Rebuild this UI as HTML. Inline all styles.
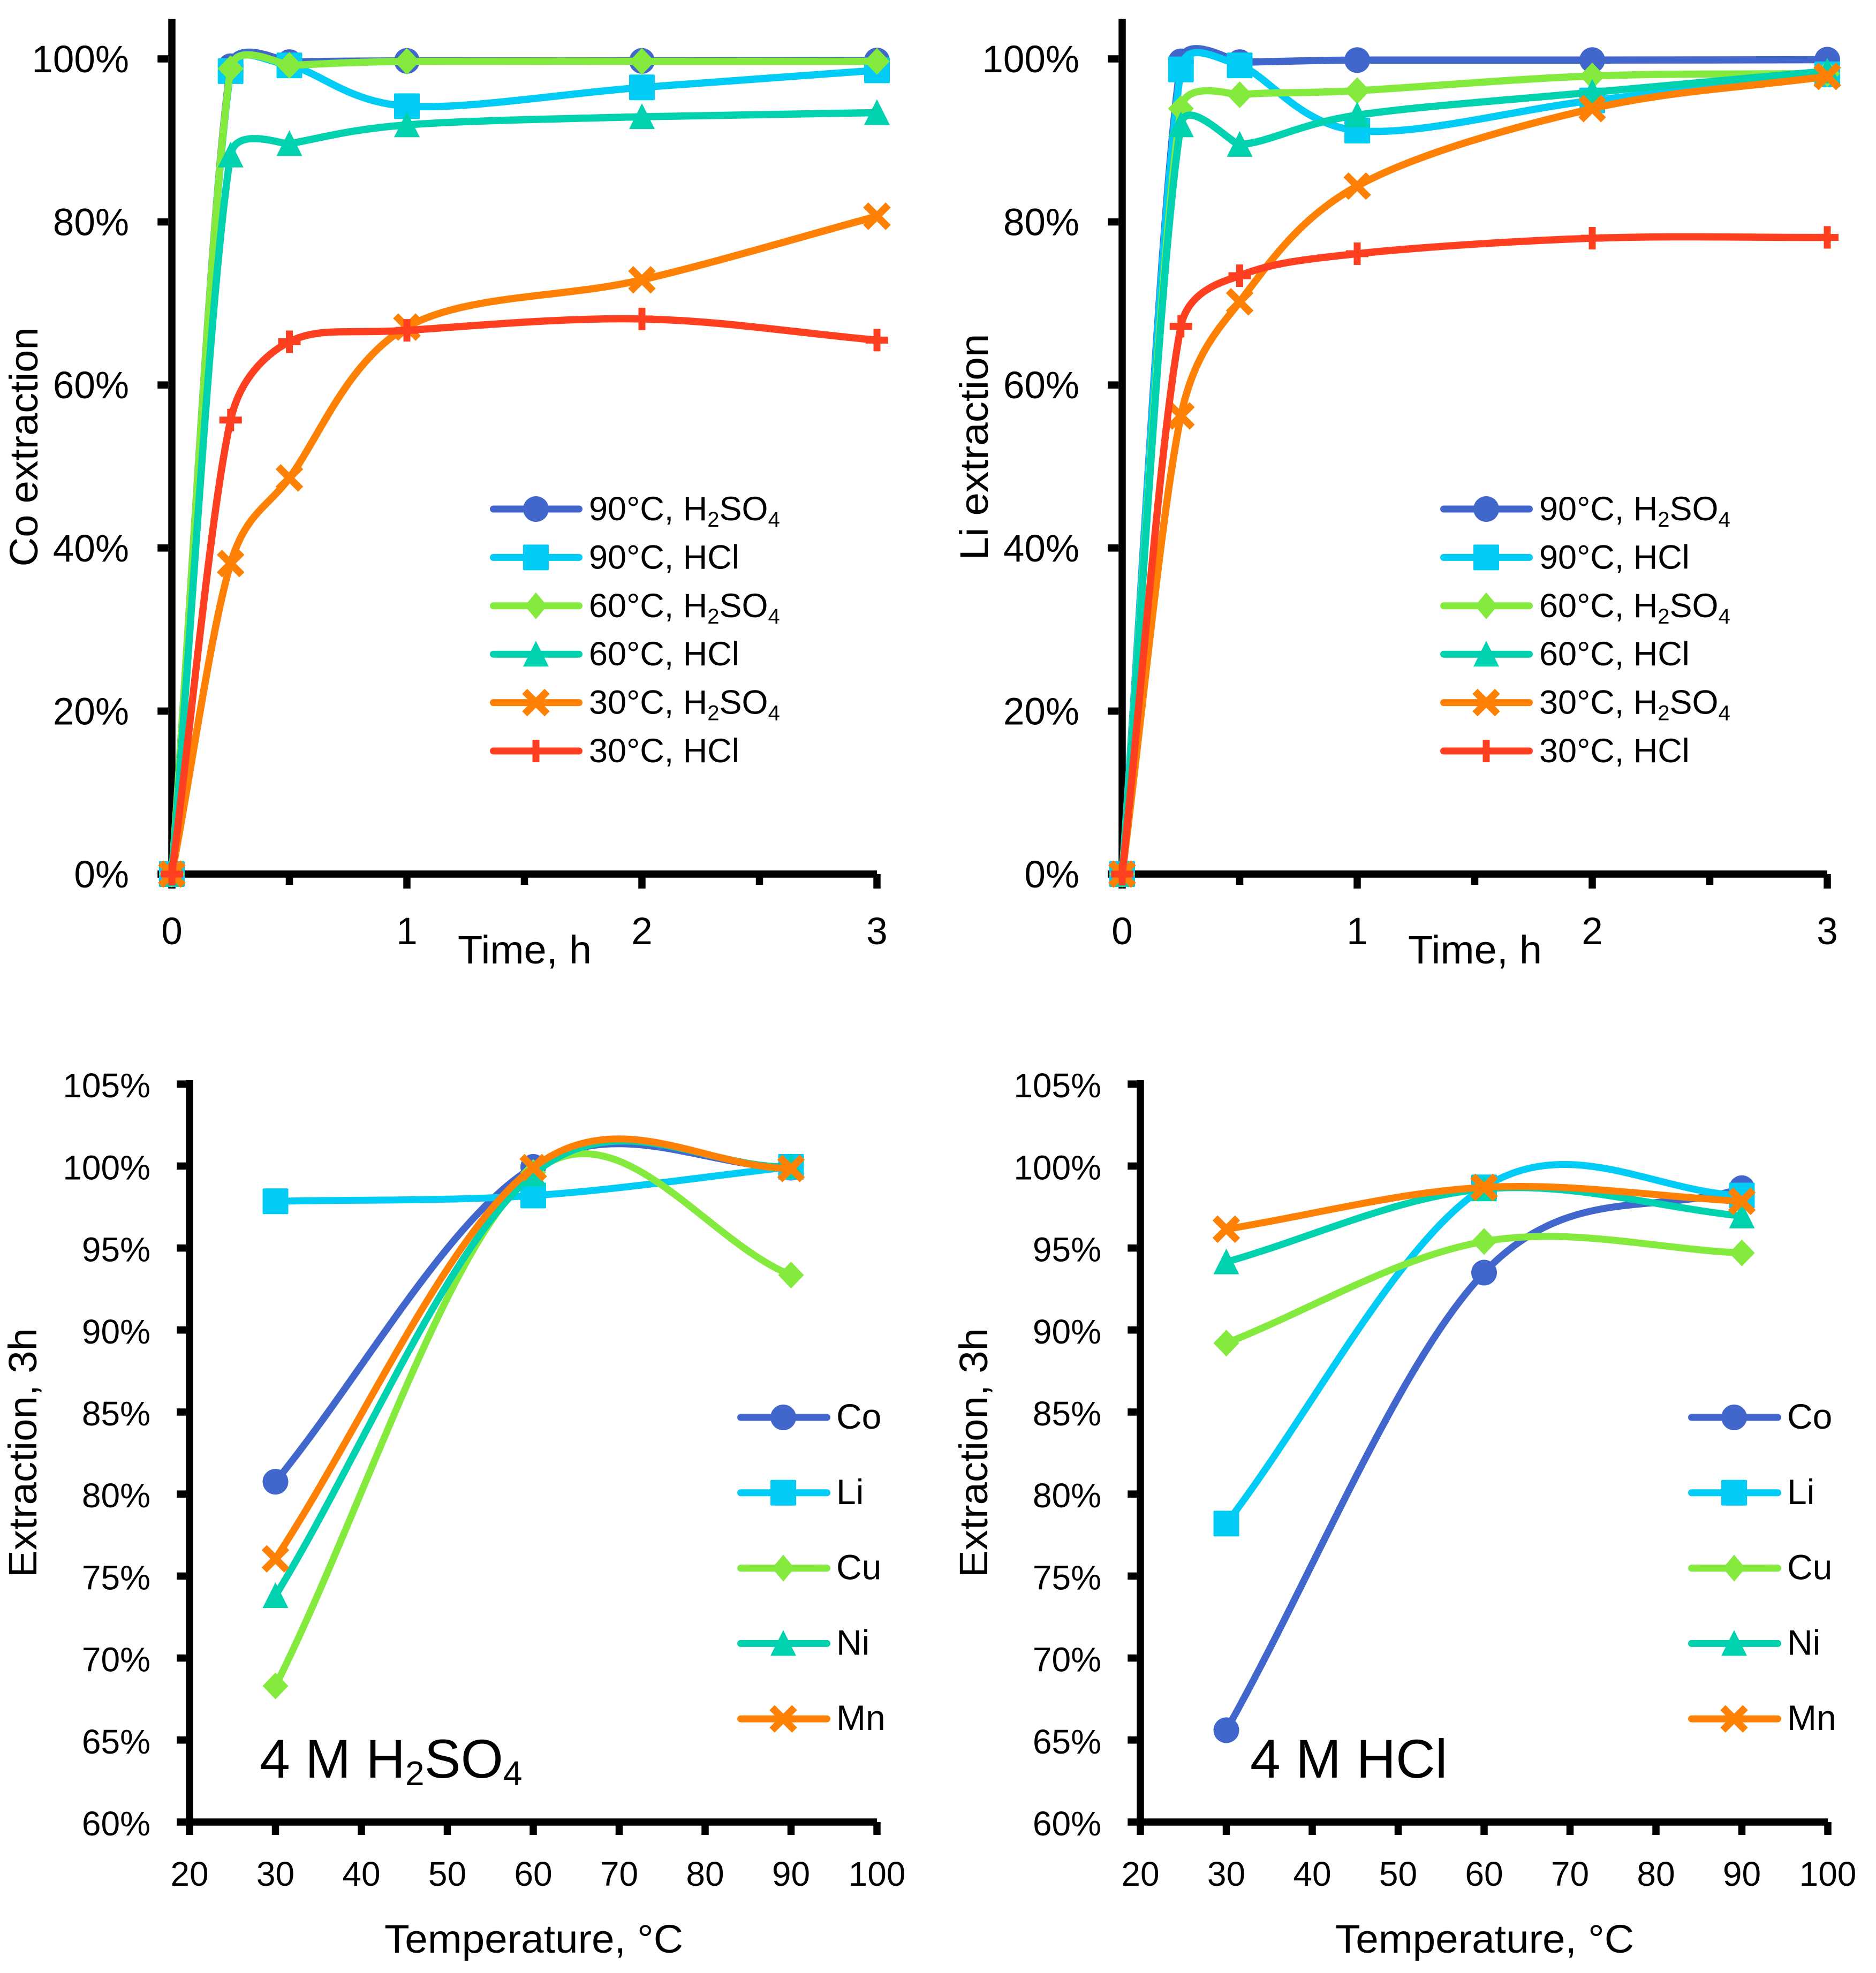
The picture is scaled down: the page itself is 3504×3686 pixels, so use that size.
<!DOCTYPE html>
<html lang="en">
<head>
<meta charset="utf-8">
<title>Metal extraction charts</title>
<style>
html,body{margin:0;padding:0;background:#fff;width:3504px;height:3686px;overflow:hidden}
svg{display:block}
text{font-family:"Liberation Sans",sans-serif;fill:#000}
</style>
</head>
<body>
<svg id="fig" xmlns="http://www.w3.org/2000/svg" width="3504" height="3686" viewBox="0 0 3504 3686"></svg>
<script>
/* ---------- data ---------- */
const timeHours = [0, 0.25, 0.5, 1, 2, 3];
const timeMajorTicks = [0, 1, 2, 3];
const timeMinorTicks = [0.5, 1.5, 2.5];
const timePercentTicks = [0, 20, 40, 60, 80, 100];
const timeSeriesLabels = ['90°C, H2SO4', '90°C, HCl', '60°C, H2SO4', '60°C, HCl', '30°C, H2SO4', '30°C, HCl'];

const co90H2so4 = [0, 99.1, 99.6, 99.75, 99.75, 99.8];
const co90Hcl = [0, 98.5, 99.2, 94.2, 96.5, 98.6];
const co60H2so4 = [0, 98.8, 99.2, 99.7, 99.7, 99.7];
const co60Hcl = [0, 88.2, 89.6, 91.9, 92.9, 93.4];
const co30H2so4 = [0, 38.1, 48.6, 67.1, 72.9, 80.7];
const co30Hcl = [0, 55.7, 65.3, 66.7, 68.1, 65.5];

const li90H2so4 = [0, 99.7, 99.6, 99.85, 99.85, 99.9];
const li90Hcl = [0, 98.7, 99.2, 91.2, 94.9, 98.1];
const li60H2so4 = [0, 93.9, 95.6, 96.1, 97.9, 98.2];
const li60Hcl = [0, 91.9, 89.5, 93.1, 95.9, 98.5];
const li30H2so4 = [0, 56.2, 70.2, 84.4, 93.9, 97.85];
const li30Hcl = [0, 67.2, 73.4, 76.1, 78.0, 78.1];

const temperatures = [30, 60, 90];
const tempXTicks = [20, 30, 40, 50, 60, 70, 80, 90, 100];
const tempPercentTicks = [60, 65, 70, 75, 80, 85, 90, 95, 100, 105];
const metalLabels = ['Co', 'Li', 'Cu', 'Ni', 'Mn'];

const h2so4Co = [80.75, 99.95, 99.9];
const h2so4Li = [97.85, 98.2, 99.95];
const h2so4Cu = [68.3, 99.6, 93.35];
const h2so4Ni = [73.8, 99.5, 99.95];
const h2so4Mn = [76.05, 99.9, 99.85];

const hclCo = [65.6, 93.5, 98.65];
const hclLi = [78.2, 98.7, 98.2];
const hclCu = [89.2, 95.4, 94.7];
const hclNi = [94.15, 98.6, 96.95];
const hclMn = [96.15, 98.7, 97.85];

/* ---------- helpers ---------- */
const SVG_NS = 'http://www.w3.org/2000/svg';
const fig = document.getElementById('fig');
const seriesColors = ['#4267CC', '#00CCF6', '#84EA3E', '#00D1AE', '#FE8005', '#FE4020'];
const metalColors = ['#4267CC', '#00CCF6', '#84EA3E', '#00D1AE', '#FE8005'];
const timeMarkers = ['circle', 'square', 'diamond', 'triangle', 'cross', 'plus'];
const metalMarkers = ['circle', 'square', 'diamond', 'triangle', 'cross'];

function mk(parent, tag, attrs) {
  const el = document.createElementNS(SVG_NS, tag);
  for (const k in attrs) el.setAttribute(k, attrs[k]);
  parent.appendChild(el);
  return el;
}
function slug(s) {
  return s.toLowerCase().replace(/°/g, '').replace(/[^a-z0-9]+/g, '-').replace(/^-|-$/g, '');
}
function dist(a, b) { return Math.hypot(a[0] - b[0], a[1] - b[1]); }

/* Spreadsheet-style smoothed line through pixel points */
function smoothPath(pts) {
  let d = 'M' + pts[0][0].toFixed(2) + ' ' + pts[0][1].toFixed(2);
  for (let i = 0; i < pts.length - 1; i++) {
    const p1 = pts[i], p2 = pts[i + 1];
    const p0 = i === 0 ? p1 : pts[i - 1];
    const p3 = i + 2 >= pts.length ? p2 : pts[i + 2];
    const f = i === 0 ? 1 / 3 : 1 / 6;
    const g = i + 2 >= pts.length ? 1 / 3 : 1 / 6;
    const d02 = dist(p0, p2), d12 = dist(p1, p2), d13 = dist(p1, p3);
    let s1, s2;
    const a = d02 * f >= d12 / 2, b = d13 * g >= d12 / 2;
    if (!a && !b) { s1 = f; s2 = g; }
    else if (a && b) { s1 = d12 / 2 / d02; s2 = d12 / 2 / d13; }
    else if (a) { s1 = d12 / 2 / d02; s2 = d12 / 2 / d02; }
    else { s1 = d12 / 2 / d13; s2 = d12 / 2 / d13; }
    const c1 = [p1[0] + (p2[0] - p0[0]) * s1, p1[1] + (p2[1] - p0[1]) * s1];
    const c2 = [p2[0] + (p1[0] - p3[0]) * s2, p2[1] + (p1[1] - p3[1]) * s2];
    d += 'C' + c1[0].toFixed(2) + ' ' + c1[1].toFixed(2) + ' ' + c2[0].toFixed(2) + ' ' + c2[1].toFixed(2) + ' ' + p2[0].toFixed(2) + ' ' + p2[1].toFixed(2);
  }
  return d;
}

function drawMarker(parent, kind, cx, cy, color, legend) {
  const r = 24;
  let el;
  if (kind === 'circle') {
    el = mk(parent, 'circle', { cx: cx, cy: cy, r: r, fill: color });
  } else if (kind === 'square') {
    el = mk(parent, 'rect', { x: cx - r, y: cy - r, width: 2 * r, height: 2 * r, rx: 2, fill: color });
  } else if (kind === 'diamond') {
    const w = legend ? 21 : 24;
    el = mk(parent, 'polygon', { points: [cx, cy - 25, cx + w, cy, cx, cy + 25, cx - w, cy].join(' '), fill: color });
  } else if (kind === 'triangle') {
    el = mk(parent, 'polygon', { points: [cx, cy - 25, cx + 24, cy + 23, cx - 24, cy + 23].join(' '), fill: color });
  } else if (kind === 'cross') {
    const c = 21;
    el = mk(parent, 'path', { d: 'M' + (cx - c) + ' ' + (cy - c) + 'L' + (cx + c) + ' ' + (cy + c) + 'M' + (cx - c) + ' ' + (cy + c) + 'L' + (cx + c) + ' ' + (cy - c), stroke: color, 'stroke-width': 13.5, fill: 'none' });
  } else {
    const c = 21;
    el = mk(parent, 'path', { d: 'M' + (cx - c) + ' ' + cy + 'L' + (cx + c) + ' ' + cy + 'M' + cx + ' ' + (cy - c) + 'L' + cx + ' ' + (cy + c), stroke: color, 'stroke-width': 13, fill: 'none' });
  }
  return el;
}

/* Writes a label as real text, lowering the digits of H2SO4 as subscripts */
function richText(parent, str, x, y, size, subSize, subDrop) {
  const t = mk(parent, 'text', { x: x, y: y, 'font-size': size });
  const parts = str.split(/(?<=[HO])(\d)/);
  parts.forEach(function (part, i) {
    if (!part) return;
    const sp = mk(t, 'tspan', {});
    if (i % 2 === 1) {
      sp.setAttribute('font-size', subSize);
      sp.setAttribute('dy', subDrop);
    } else if (i > 0) {
      sp.setAttribute('dy', -subDrop);
    }
    sp.textContent = part;
  });
  return t;
}

function drawAxes(g, o) {
  const sw = o.axisWidth;
  const yAxis = mk(g, 'rect', { x: o.x0 - sw / 2, y: o.axisTop, width: sw, height: o.yBase - o.axisTop + sw / 2, fill: '#000' });
  
  
  const xAxis = mk(g, 'rect', { x: o.x0 - sw / 2, y: o.yBase - sw / 2, width: o.axisRight - o.x0 + sw / 2, height: sw, fill: '#000' });
  
  

  o.yTicks.forEach(function (v) {
    const tick = mk(g, 'rect', { x: o.x0 - sw / 2 - o.yTickLen, y: o.yOf(v) - sw / 2, width: o.yTickLen, height: sw, fill: '#000' });
    
    
    const lab = mk(g, 'text', { x: o.yLabelRight, y: o.yOf(v) + 25, 'font-size': o.tickFont, 'text-anchor': 'end' });
    lab.textContent = v + '%';
    
    
  });
  o.xTicks.forEach(function (v) {
    const tick = mk(g, 'rect', { x: o.xOf(v) - sw / 2, y: o.yBase, width: sw, height: o.xTickEnd - o.yBase, fill: '#000' });
    
    
    const lab = mk(g, 'text', { x: o.xOf(v), y: o.xLabelBase, 'font-size': o.tickFont, 'text-anchor': 'middle' });
    lab.textContent = String(v);
    
    
  });
  (o.xMinor || []).forEach(function (v) {
    const tick = mk(g, 'rect', { x: o.xOf(v) - sw / 2, y: o.yBase, width: sw, height: o.xMinorEnd - o.yBase, fill: '#000' });
    
    
  });

  const xt = mk(g, 'text', { x: o.xTitleX, y: o.xTitleY, 'font-size': 74, textLength: o.xTitleLen, lengthAdjust: 'spacingAndGlyphs' });
  xt.textContent = o.xTitle;
  
  

  const yt = mk(g, 'text', { transform: 'translate(' + o.yTitleX + ' ' + o.yTitleY + ') rotate(-90)', 'font-size': 74, 'text-anchor': 'middle', textLength: o.yTitleLen, lengthAdjust: 'spacingAndGlyphs' });
  yt.textContent = o.yTitle;
  
  
}

function drawSeries(g, o, xs, values, color, marker, label, sw) {
  const sg = mk(g, 'g', {});
  
  
  const pts = xs.map(function (x, i) { return [o.xOf(x), o.yOf(values[i])]; });
  const line = mk(sg, 'path', { d: smoothPath(pts), fill: 'none', stroke: color, 'stroke-width': sw, 'stroke-linejoin': 'round' });
  
  
  pts.forEach(function (p) {
    const m = drawMarker(sg, marker, p[0], p[1], color, false);
    
    
  });
}

function drawLegendEntry(g, label, color, marker, x1, x2, xm, xt, y, sw, font) {
  const e = mk(g, 'g', {});
  
  
  const l = mk(e, 'line', { x1: x1 + sw / 2, x2: x2 - sw / 2, y1: y, y2: y, stroke: color, 'stroke-width': sw, 'stroke-linecap': 'round' });
  
  
  const m = drawMarker(e, marker, xm, y, color, true);
  
  
  const t = richText(e, label, xt, y + 21, font, 40, 12);
  
  
}

/* ---------- time panels ---------- */
function timePanel(name, dx, yTitle, yTitleLen, seriesList) {
  const g = mk(fig, 'g', {});
  
  
  const x0 = 321 + dx;
  const o = {
    x0: x0, yBase: 1633, axisTop: 35, axisRight: 1638 + dx, axisWidth: 13.5,
    xOf: function (t) { return x0 + t * 439; },
    yOf: function (v) { return 1633 - v * 15.23; },
    yTicks: timePercentTicks, xTicks: timeMajorTicks, xMinor: timeMinorTicks,
    yTickLen: 20, xTickEnd: 1660, xMinorEnd: 1653,
    tickFont: 71, yLabelRight: 241 + dx, xLabelBase: 1764,
    xTitle: 'Time, h', xTitleX: 855 + dx, xTitleY: 1800, xTitleLen: 250,
    yTitle: yTitle, yTitleX: 70 + dx, yTitleY: 835, yTitleLen: yTitleLen
  };
  drawAxes(g, o);
  seriesList.forEach(function (vals, i) {
    drawSeries(g, o, timeHours, vals, seriesColors[i], timeMarkers[i], timeSeriesLabels[i], 13.5);
  });
  const lg = mk(g, 'g', {});
  
  
  timeSeriesLabels.forEach(function (label, i) {
    drawLegendEntry(lg, label, seriesColors[i], timeMarkers[i], 915 + dx, 1088 + dx, 1001 + dx, 1100 + dx, 951 + i * 90.4, 13, 63);
  });
}

/* ---------- temperature panels ---------- */
function tempPanel(name, dx, note, noteX, seriesList) {
  const g = mk(fig, 'g', {});
  
  
  const x0 = 354 + dx;
  const o = {
    x0: x0, yBase: 3404, axisTop: 2018, axisRight: 1638 + dx, axisWidth: 13.5,
    xOf: function (t) { return x0 + (t - 20) * 16.05; },
    yOf: function (v) { return 3404 - (v - 60) * 30.64; },
    yTicks: tempPercentTicks, xTicks: tempXTicks,
    yTickLen: 17, xTickEnd: 3428,
    tickFont: 64, yLabelRight: 281 + dx, xLabelBase: 3523,
    xTitle: 'Temperature, °C', xTitleX: 718 + dx, xTitleY: 3648, xTitleLen: 558,
    yTitle: 'Extraction, 3h', yTitleX: 68 + dx, yTitleY: 2714, yTitleLen: 466
  };
  drawAxes(g, o);
  seriesList.forEach(function (vals, i) {
    drawSeries(g, o, temperatures, vals, metalColors[i], metalMarkers[i], metalLabels[i], 13);
  });
  const lg = mk(g, 'g', {});
  
  
  metalLabels.forEach(function (label, i) {
    drawLegendEntry(lg, label, metalColors[i], metalMarkers[i], 1377 + dx, 1551 + dx, 1463 + dx, 1562 + dx, 2648 + i * 140.8, 13, 66);
  });
  const n = richText(g, note, noteX, 3321, 102, 64, 14);
  
  
}

timePanel('cobalt-extraction-chart', 0, 'Co extraction', 447, [co90H2so4, co90Hcl, co60H2so4, co60Hcl, co30H2so4, co30Hcl]);
timePanel('lithium-extraction-chart', 1775, 'Li extraction', 423, [li90H2so4, li90Hcl, li60H2so4, li60Hcl, li30H2so4, li30Hcl]);
tempPanel('h2so4-temperature-chart', 0, '4 M H2SO4', 485, [h2so4Co, h2so4Li, h2so4Cu, h2so4Ni, h2so4Mn]);
tempPanel('hcl-temperature-chart', 1776, '4 M HCl', 2335, [hclCo, hclLi, hclCu, hclNi, hclMn]);
</script>
</body>
</html>
